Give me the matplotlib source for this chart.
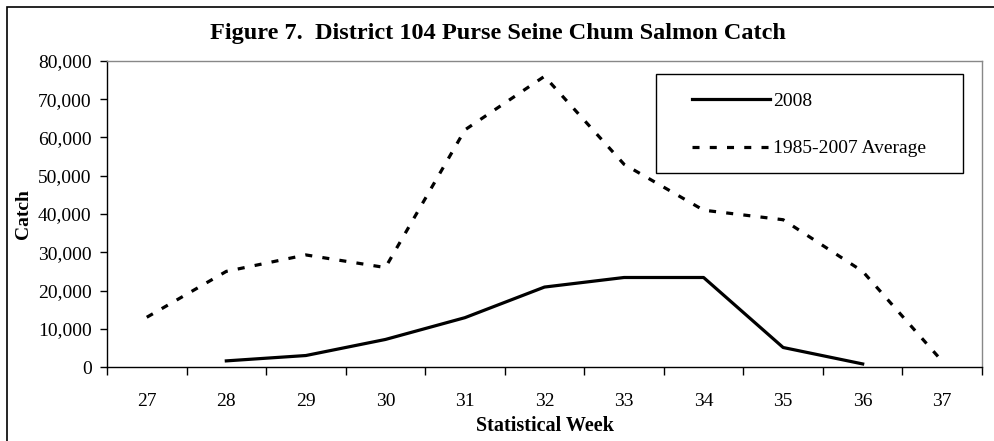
import matplotlib
matplotlib.use('Agg')
import matplotlib.pyplot as plt
from matplotlib.patches import Rectangle
from matplotlib.ticker import FuncFormatter

weeks = [27, 28, 29, 30, 31, 32, 33, 34, 35, 36, 37]
weeks_2008 = [28, 29, 30, 31, 32, 33, 34, 35, 36]
catch_2008 = [1600, 3000, 7200, 12900, 20900, 23400, 23400, 5100, 800]
catch_avg = [13000, 25000, 29300, 26000, 62000, 76000, 53000, 41000, 38500, 25000, 1500]

plt.rcParams['font.family'] = ['Liberation Serif', 'DejaVu Serif']

fig = plt.figure(figsize=(9.95, 4.41), dpi=100)
W, H = 995, 441
ax = fig.add_axes([107/W, 1 - 367/H, (982-107)/W, (367-61)/H])

# outer chart border
fig.patches.append(Rectangle((7/W, -0.01), (W + 5)/W, 1 - 7/H + 0.01, transform=fig.transFigure,
                             fill=False, edgecolor='black', linewidth=1.2))
# legend box
fig.patches.append(Rectangle((656/W, 1 - 173/H), (963-656)/W, (173-74)/H, transform=fig.transFigure,
                             fill=False, edgecolor='black', linewidth=1))

ax.plot(weeks_2008, catch_2008, color='black', linewidth=2.3, label='2008')
ax.plot(weeks, catch_avg, color='black', linewidth=2.3, dashes=(2.2, 3.2), label='1985-2007 Average')

ax.set_xlim(26.5, 37.5)
ax.set_ylim(0, 80000)
ax.set_yticks(range(0, 80001, 10000))
ax.yaxis.set_major_formatter(FuncFormatter(lambda v, p: '{:,.0f}'.format(v)))
ax.set_xticks(weeks)
ax.set_xticks([w + 0.5 for w in [26] + weeks], minor=True)
ax.tick_params(axis='x', which='major', length=0, pad=19, labelsize=14)
ax.tick_params(axis='x', which='minor', length=6, width=1, direction='out')
ax.tick_params(axis='y', length=5, width=1, labelsize=14, pad=6)

for s in ['top', 'right']:
    ax.spines[s].set_color('#888888')
    ax.spines[s].set_linewidth(1)
for s in ['left', 'bottom']:
    ax.spines[s].set_linewidth(1)

ax.set_ylabel('Catch', fontsize=14, fontweight='bold')
ax.yaxis.set_label_coords((32-107)/875, 0.5)
ax.set_xlabel('Statistical Week', fontsize=14.5, fontweight='bold', labelpad=4)
fig.text(0.5, 1 - 33/H, 'Figure 7.  District 104 Purse Seine Chum Salmon Catch',
         ha='center', va='center', fontsize=17.5, fontweight='bold')

leg = ax.legend(loc='upper left', bbox_to_anchor=(692/W, 1 - 92/H), bbox_transform=fig.transFigure,
                frameon=False, fontsize=14, handlelength=4.0, handletextpad=0.15,
                labelspacing=1.55, borderpad=0, borderaxespad=0)

fig.savefig('out.png', dpi=100)
